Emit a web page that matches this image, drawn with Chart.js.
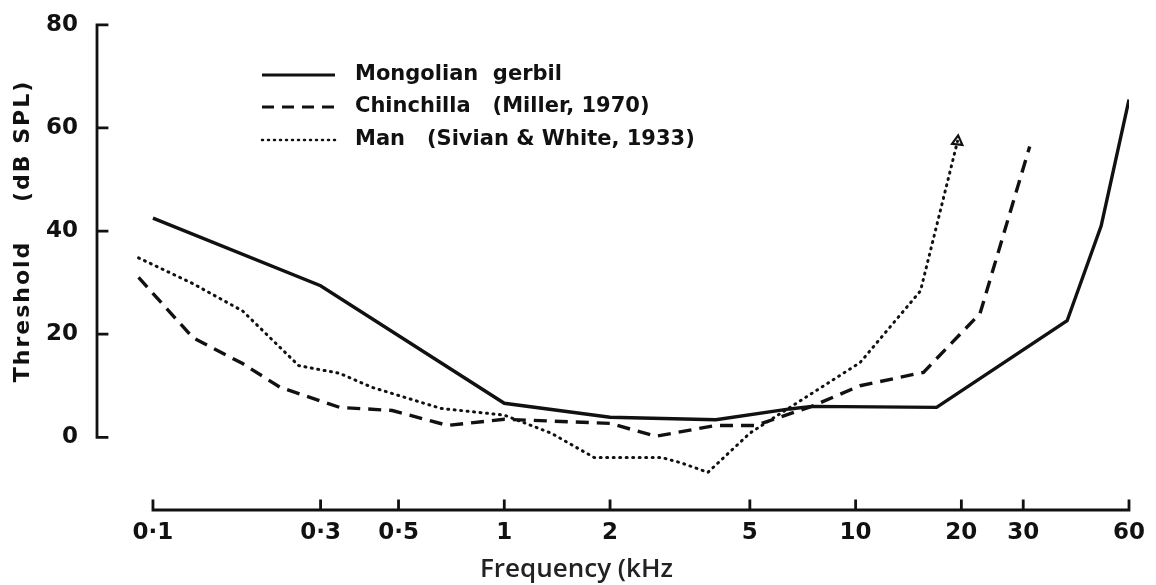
<!DOCTYPE html>
<html>
<head>
<meta charset="utf-8">
<script src="https://cdn.jsdelivr.net/npm/chart.js@4.4.1/dist/chart.umd.min.js"></script>
<style>
  html, body { margin: 0; padding: 0; background: #fff; }
  #wrap { width: 1156px; height: 585px; position: relative; }
</style>
</head>
<body>
<div id="wrap"><canvas id="hearing"></canvas></div>
<script>
// frequency in kHz, threshold in dB SPL
const gerbilFreq = [0.1, 0.3, 1, 2, 4, 6.5, 7.5, 17, 40, 50, 60];
const gerbilDb   = [42.5, 29.4, 6.6, 3.9, 3.4, 5.5, 6, 5.8, 22.6, 41, 65.5];

const chinFreq = [0.091, 0.13, 0.18, 0.23, 0.34, 0.48, 0.69, 1, 2, 2.7, 4, 5.2, 7.5, 10.3, 15.6, 22.6, 31.3];
const chinDb   = [31, 19.3, 14.3, 9.7, 5.8, 5.2, 2.3, 3.5, 2.7, 0.2, 2.3, 2.3, 6, 10, 12.6, 24, 56.4];

const manFreq = [0.091, 0.13, 0.18, 0.26, 0.34, 0.42, 0.66, 1, 1.36, 1.8, 2.8, 3.2, 3.8, 5, 6.5, 10.3, 15.3, 19.5];
const manDb   = [34.8, 29.8, 24.5, 13.9, 12.4, 9.7, 5.6, 4.3, 0.8, -3.9, -3.9, -5, -6.8, 0.8, 5.8, 14.5, 28.4, 57.4];

const xTicks = [0.1, 0.3, 0.5, 1, 2, 5, 10, 20, 30, 60];
const xTickLabels = ['0·1', '0·3', '0·5', '1', '2', '5', '10', '20', '30', '60'];
const yTicks = [0, 20, 40, 60, 80];

const seriesNames = ['Mongolian  gerbil', 'Chinchilla   (Miller, 1970)', 'Man   (Sivian & White, 1933)'];

const ink = '#111';
const letterFont = '"DejaVu Sans", sans-serif';

function pts(xs, ys) {
  return xs.map((x, i) => ({ x: x, y: ys[i] }));
}

// axes drawn by hand: the y axis stops at 0, the x axis starts at 0.1, ticks point inward
const handAxes = {
  id: 'handAxes',
  afterDatasetsDraw(chart) {
    const ctx = chart.ctx;
    const xs = chart.scales.x, ys = chart.scales.y;
    ctx.save();
    ctx.strokeStyle = ink;
    ctx.lineWidth = 2.8;
    ctx.lineCap = 'square';

    const ax = chart.chartArea.left;
    ctx.beginPath();
    ctx.moveTo(ax, ys.getPixelForValue(80));
    ctx.lineTo(ax, ys.getPixelForValue(0));
    yTicks.forEach(v => {
      const py = ys.getPixelForValue(v);
      ctx.moveTo(ax, py);
      ctx.lineTo(ax + 10, py);
    });
    ctx.stroke();

    const ay = chart.chartArea.bottom;
    ctx.beginPath();
    ctx.moveTo(xs.getPixelForValue(0.1), ay);
    ctx.lineTo(xs.getPixelForValue(60), ay);
    xTicks.forEach(v => {
      const px = xs.getPixelForValue(v);
      ctx.moveTo(px, ay);
      ctx.lineTo(px, ay - 9);
    });
    ctx.stroke();

    // axis titles
    ctx.fillStyle = '#222';
    ctx.font = '600 26px "Open Sans", sans-serif';
    ctx.textAlign = 'left';
    ctx.textBaseline = 'alphabetic';
    ctx.fillText('Frequency (kHz', 480, 577);

    ctx.save();
    ctx.translate(23, 231);
    ctx.rotate(-Math.PI / 2);
    ctx.fillStyle = ink;
    ctx.font = 'bold 22px ' + letterFont;
    ctx.letterSpacing = '2px';
    ctx.textAlign = 'center';
    ctx.textBaseline = 'middle';
    ctx.fillText('Threshold    (dB SPL)', 0, 0);
    ctx.restore();

    // legend inside the plot
    const rows = [75, 107, 140];
    const dashes = [[], [12, 8], [1, 5]];
    rows.forEach((ry, i) => {
      ctx.save();
      ctx.beginPath();
      ctx.setLineDash(dashes[i]);
      ctx.lineCap = i === 2 ? 'round' : 'butt';
      ctx.lineWidth = i === 2 ? 2.5 : 3.2;
      ctx.moveTo(262, ry);
      ctx.lineTo(335, ry);
      ctx.stroke();
      ctx.restore();
      ctx.fillStyle = ink;
      ctx.font = 'bold 21px ' + letterFont;
      ctx.textAlign = 'left';
      ctx.textBaseline = 'middle';
      ctx.fillText(seriesNames[i], 355, ry);
    });
    ctx.restore();
  }
};

const manRadius = manFreq.map((f, i) => i === manFreq.length - 1 ? 6 : 0);

const chart = new Chart(document.getElementById('hearing'), {
  type: 'line',
  data: {
    datasets: [
      {
        label: seriesNames[0],
        data: pts(gerbilFreq, gerbilDb),
        borderColor: ink,
        borderWidth: 3.4,
        pointRadius: 0
      },
      {
        label: seriesNames[1],
        data: pts(chinFreq, chinDb),
        borderColor: ink,
        borderWidth: 3.4,
        borderDash: [13, 8],
        pointRadius: 0
      },
      {
        label: seriesNames[2],
        data: pts(manFreq, manDb),
        borderColor: ink,
        borderWidth: 3,
        borderDash: [1, 5.5],
        borderCapStyle: 'round',
        pointStyle: 'triangle',
        pointRadius: manRadius,
        pointRotation: 6,
        pointBorderColor: ink,
        pointBorderWidth: 2.2,
        pointBackgroundColor: 'rgba(0,0,0,0)'
      }
    ]
  },
  options: {
    responsive: true,
    maintainAspectRatio: false,
    devicePixelRatio: 1,
    animation: false,
    events: [],
    layout: { padding: { top: 23, right: 27, left: 0, bottom: 0 } },
    plugins: {
      legend: { display: false },
      tooltip: { enabled: false }
    },
    scales: {
      x: {
        type: 'logarithmic',
        min: 0.0693,
        max: 60,
        grid: { display: false },
        border: { display: false },
        afterBuildTicks: s => { s.ticks = xTicks.map(v => ({ value: v })); },
        afterFit: s => { s.height = 75; },
        ticks: {
          autoSkip: false,
          maxRotation: 0,
          padding: 1,
          color: ink,
          font: { family: letterFont, size: 23, weight: 'bold' },
          callback: v => {
            const i = xTicks.indexOf(v);
            return i < 0 ? '' : xTickLabels[i];
          }
        }
      },
      y: {
        type: 'linear',
        min: -14.1,
        max: 80,
        grid: { display: false },
        border: { display: false },
        afterBuildTicks: s => { s.ticks = yTicks.map(v => ({ value: v })); },
        afterFit: s => { s.width = 97; },
        ticks: {
          padding: 11,
          color: ink,
          font: { family: letterFont, size: 23, weight: 'bold' }
        }
      }
    }
  },
  plugins: [handAxes]
});
</script>
</body>
</html>
